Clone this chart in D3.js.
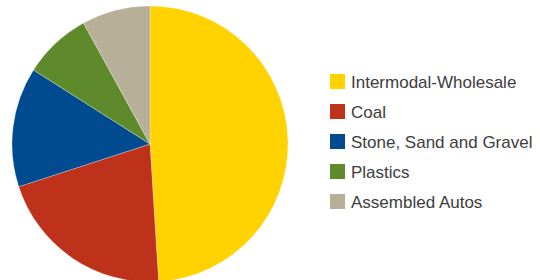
<!DOCTYPE html>
<meta charset="utf-8">
<style>
  html, body { margin: 0; padding: 0; background: #fff; overflow: hidden; }
  .legend text { font: normal 17px "Liberation Sans", Arial, sans-serif; fill: #3d3d3d; }
</style>
<svg></svg>
<script src="https://d3js.org/d3.v7.min.js"></script>
<script>
  var categories = ["Intermodal-Wholesale", "Coal", "Stone, Sand and Gravel", "Plastics", "Assembled Autos"];
  var shares = [49, 21, 14, 8, 8];
  var colors = ["#FFD200", "#BE311B", "#004A8F", "#5E8A2B", "#B8AF98"];

  var width = 540, height = 280;

  var svg = d3.select("svg")
      .attr("width", width)
      .attr("height", height);

  var data = categories.map(function(c, i) { return {name: c, value: shares[i]}; });

  var colour = d3.scaleOrdinal().domain(categories).range(colors);

  var pie = d3.pie().sort(null).value(function(d) { return d.value; });
  var arc = d3.arc().innerRadius(0).outerRadius(138);

  var g = svg.append("g")
      .attr("transform", "translate(150,144)");

  g.selectAll("path")
    .data(pie(data))
    .enter().append("path")
      .attr("d", arc)
      .attr("fill", function(d) { return colour(d.data.name); })
      .attr("stroke", "#fff")
      .attr("stroke-width", 0.3);

  // legend
  var ly = d3.scaleBand().domain(categories).range([66, 216]);

  var legend = svg.append("g").attr("class", "legend");

  var item = legend.selectAll("g")
    .data(categories)
    .enter().append("g")
      .attr("transform", function(d) { return "translate(330," + ly(d) + ")"; });

  item.append("rect")
      .attr("width", 15)
      .attr("height", 15)
      .attr("y", 8)
      .attr("fill", function(d) { return colour(d); });

  item.append("text")
      .attr("x", 21)
      .attr("y", 22)
      .text(function(d) { return d; });
</script>
